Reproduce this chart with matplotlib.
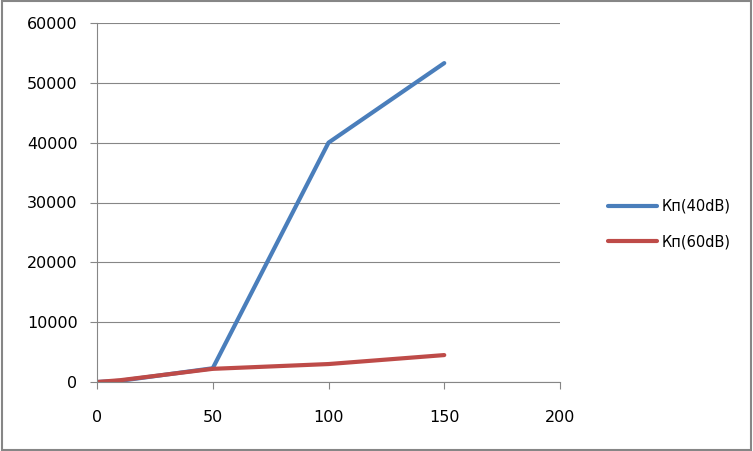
import matplotlib.pyplot as plt

x = [0, 10, 50, 100, 150]
kp_40 = [0, 200, 2300, 40000, 53300]
kp_60 = [0, 300, 2200, 3000, 4500]

fig = plt.figure(figsize=(7.53, 4.51), dpi=100)
ax = fig.add_axes([97 / 753, 1 - 382 / 451, (560 - 97) / 753, (382 - 23) / 451])

ax.plot(x, kp_40, color="#4a7ebb", lw=3, label="Кп(40dB)", solid_capstyle="round")
ax.plot(x, kp_60, color="#be4b48", lw=3, label="Кп(60dB)", solid_capstyle="round")

ax.set_xlim(0, 200)
ax.set_ylim(0, 60000)
ax.set_xticks([0, 50, 100, 150, 200])
ax.set_yticks(range(0, 60001, 10000))
ax.grid(axis="y", color="#868686", lw=0.8)
ax.set_axisbelow(True)
for s in ["top", "right"]:
    ax.spines[s].set_visible(False)
for s in ["left", "bottom"]:
    ax.spines[s].set_color("#868686")
ax.tick_params(colors="#868686", labelcolor="black", labelsize=11.5, length=5, direction="out")
ax.tick_params(axis="y", pad=9)
ax.tick_params(axis="x", pad=15)

ax.legend(loc="center left", bbox_to_anchor=(1.075, 0.44), frameon=False, fontsize=10.5,
          handlelength=3.4, handletextpad=0.3, labelspacing=1.4)

fig.patches.append(plt.Rectangle((0.002, 0.002), 0.996, 0.996, transform=fig.transFigure,
                                 fill=False, edgecolor="#868686", lw=1.5))

fig.savefig("out.png", dpi=100)
